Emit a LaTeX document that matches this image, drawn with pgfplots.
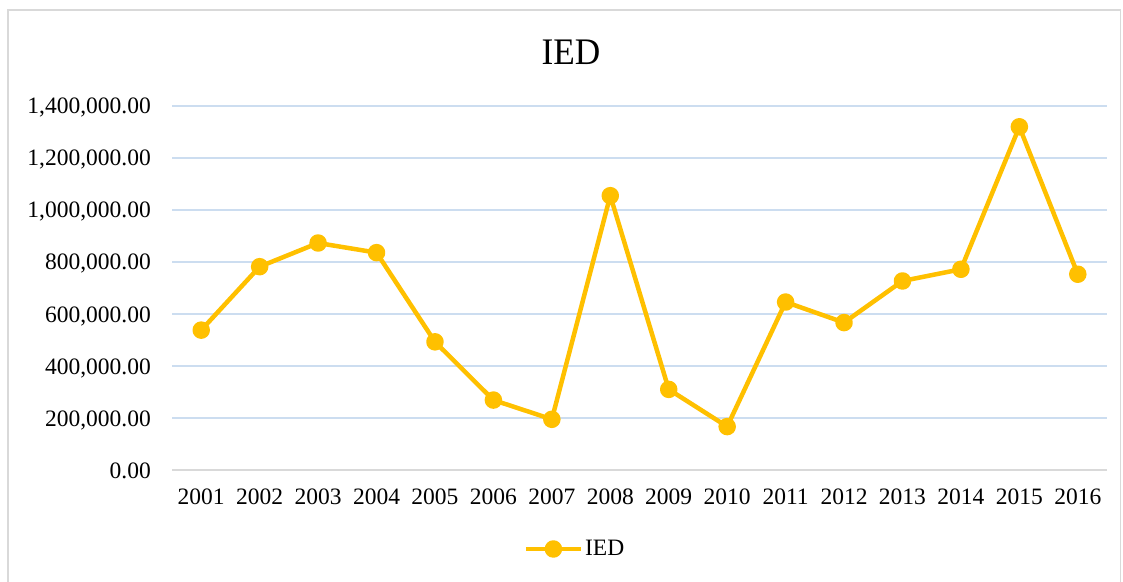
\documentclass[border=0pt]{standalone}
\usepackage{fontspec}
\setmainfont{Liberation Serif}
\newfontfamily\titlefont{Liberation Serif}[FakeStretch=0.94]
\usepackage{pgfplots}
\pgfplotsset{compat=1.18}
\definecolor{ied}{HTML}{FFC000}
\definecolor{gridc}{HTML}{CCDDF0}
\definecolor{axc}{HTML}{D9D9D9}
\begin{document}
\begin{tikzpicture}
\path[use as bounding box] (0,0) rectangle (1123pt,581pt);
\draw[axc, line width=1.5pt] (8pt,-10pt) rectangle (1120.5pt,571pt);
\node[font=\titlefont\fontsize{37.5}{40}\selectfont, anchor=base, inner sep=0pt] at (571pt,516pt) {IED};
\begin{axis}[at={(172pt,111pt)}, anchor=south west, scale only axis,
  width=935pt, height=364pt,
  xmin=0.5, xmax=16.5, ymin=0, ymax=1400000,
  xtick={1,...,16},
  xticklabels={2001,2002,2003,2004,2005,2006,2007,2008,2009,2010,2011,2012,2013,2014,2015,2016},
  ytick={0,200000,400000,600000,800000,1000000,1200000,1400000},
  yticklabels={{0.00},{200,000.00},{400,000.00},{600,000.00},{800,000.00},{1,000,000.00},{1,200,000.00},{1,400,000.00}},
  scaled y ticks=false,
  axis x line*=bottom, axis y line*=left,
  x axis line style={draw=axc, line width=1.5pt},
  y axis line style={draw=none},
  major tick length=0pt,
  ymajorgrids, grid style={draw=gridc, line width=1.2pt},
  ticklabel style={font=\fontsize{23.5}{26}\selectfont},
  yticklabel style={inner sep=0pt, anchor=base east, xshift=-21pt, yshift=-8pt},
  xticklabel style={inner sep=0pt, anchor=north, yshift=-19pt},
  clip=false,
  legend style={at={(0.431,-0.217)}, anchor=center, draw=none, fill=none,
    font=\fontsize{23.5}{26}\selectfont, inner sep=0pt, nodes={inner sep=2pt}},
  legend image code/.code={\draw[mark repeat=2,mark phase=2] plot coordinates {(0pt,0pt) (27.5pt,0pt) (55pt,0pt)};},
]
\addplot[ied, line width=4.5pt, line join=round, mark=*, mark size=6.5pt,
  mark options={fill=ied, draw=none}] coordinates {
  (1,538000) (2,782000) (3,873000) (4,836000) (5,493000) (6,269000)
  (7,195000) (8,1055000) (9,310000) (10,167000) (11,646000) (12,567000)
  (13,727000) (14,772000) (15,1320000) (16,753000)
};
\addlegendentry{IED}
\end{axis}
\end{tikzpicture}
\end{document}
